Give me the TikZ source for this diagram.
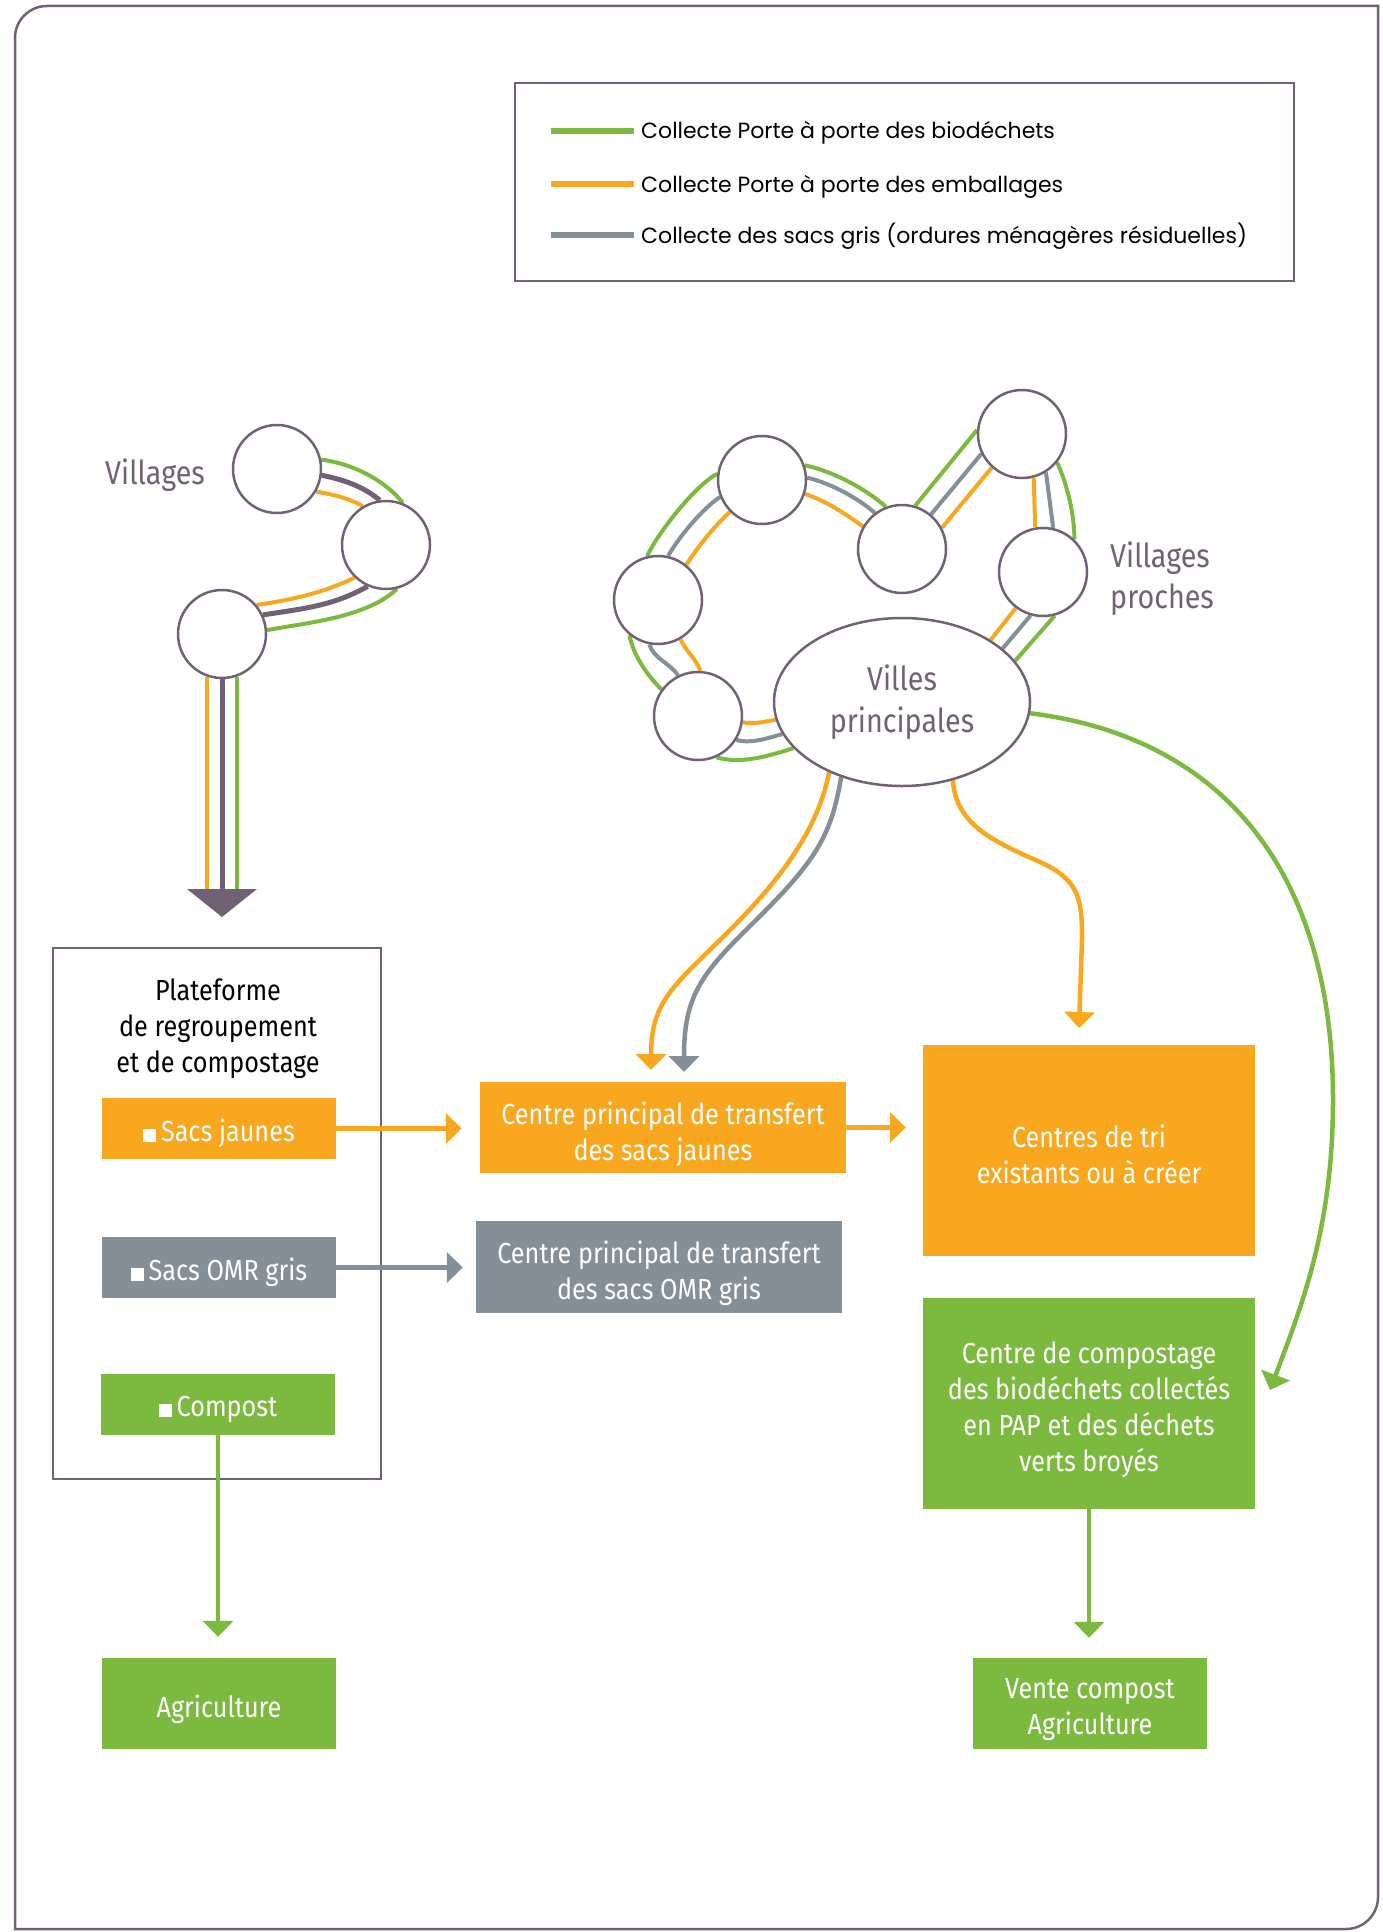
\documentclass[tikz,border=0pt]{standalone}
\usepackage{fontspec}
\setmainfont{Fira Sans}[FakeStretch=0.87]
\newfontfamily\legendfont{Poppins}
\usetikzlibrary{arrows.meta,shapes.geometric}
\pgfdeclarelayer{back}
\pgfsetlayers{back,main}
\definecolor{plum}{RGB}{113,97,117}
\definecolor{orng}{RGB}{248,167,30}
\definecolor{grn}{RGB}{123,186,63}
\definecolor{gry}{RGB}{133,143,151}
\tikzset{
  village/.style={circle, draw=plum, line width=2.5pt, fill=white, minimum size=88pt, inner sep=0pt},
  strand/.style={line width=4pt},
  box/.style={inner sep=0pt},
  boxtext/.style={inner sep=0pt, align=center, text=white, font=\fontsize{29}{36}\selectfont},
  flow/.style={line width=4.5pt, -{Triangle[width=30pt,length=16pt]}},
  lbl/.style={text=plum, font=\fontsize{33}{41}\selectfont, inner sep=0pt},
  legendtxt/.style={font=\legendfont\fontsize{22}{26}\selectfont, inner sep=0pt},
  keyline/.style={line width=6pt},
}
\newcommand{\bullsq}{\rule{13pt}{13pt}\,}
\begin{document}
\begin{tikzpicture}[x=1pt,y=-1pt]
\useasboundingbox (0,0) rectangle (1383,1932);

% outer frame, rounded at top left and bottom right
\draw[plum, line width=2.5pt] (15,1929) -- (15,38) .. controls (15,20.3) and (29.3,6) .. (47,6)
  -- (1378,6) -- (1378,1897) .. controls (1378,1914.7) and (1363.7,1929) .. (1346,1929) -- cycle;

% legend
\node[draw=plum, line width=2.5pt, minimum width=779, minimum height=198, inner sep=0pt] (legend) at (904.5,182) {};
\draw[grn, keyline] (551,131) -- (634,131);
\draw[orng, keyline] (551,184) -- (634,184);
\draw[gry, keyline] (551,235) -- (634,235);
\node[legendtxt, anchor=base west] (lg1) at (641,139) {Collecte Porte à porte des biodéchets};
\node[legendtxt, anchor=base west] (lg2) at (641,192) {Collecte Porte à porte des emballages};
\node[legendtxt, anchor=base west] (lg3) at (641,243) {Collecte des sacs gris (ordures ménagères résiduelles)};

% villages (left)
\node[village] (c1) at (277,469) {};
\node[village] (c2) at (386,545) {};
\node[village] (c3) at (222,634) {};
\node[lbl] (villabel) at (155,475) {Villages};
\coordinate (vtip) at (222,917);
\coordinate (vbase) at (222,891);
\fill[plum] (vtip) -- ++(-35,-28) -- ++(70,0) -- cycle;

% villages proches and main towns
\node[village] (r1) at (762,480) {};
\node[village] (r2) at (658,600) {};
\node[village] (r3) at (698,716) {};
\node[village] (r4) at (902,549) {};
\node[village] (r5) at (1022,434) {};
\node[village] (r6) at (1043,572) {};
\node[ellipse, draw=plum, line width=2.5pt, fill=white, minimum width=256, minimum height=168,
  inner sep=0pt, text=plum, align=center, font=\fontsize{33}{42}\selectfont] (city) at (902,702) {Villes\\principales};
\node[lbl, anchor=west, align=left] (proclabel) at (1110,579) {Villages\\proches};

\begin{pgfonlayer}{back}
  % left round
  \draw[grn, strand] (c1.12) .. controls +(38,5) and +(-14,-18) .. (c2.68);
  \draw[plum, line width=5pt] (c1.-8) .. controls +(30,6) and +(-12,-10) .. (c2.98);
  \draw[orng, strand] (c1.-30) .. controls +(20,3) and +(-10,-6) .. (c2.121);
  \draw[orng, strand] (c2.226) .. controls +(-30,15) and +(35,-5) .. (c3.40);
  \draw[plum, line width=5pt] (c2.246) .. controls +(-35,20) and +(38,-6) .. (c3.25);
  \draw[grn, strand] (c2.284) .. controls +(-30,28) and +(45,-8) .. (c3.5);
  \draw[orng, strand] (c3.-110) -- (c3.-110 |- vbase);
  \draw[plum, line width=5pt] (c3.-90) -- (c3.-90 |- vbase);
  \draw[grn, strand] (c3.-70) -- (c3.-70 |- vbase);

  % round of the main towns
  \draw[grn, strand] (r1.172) .. controls +(-22,12) and +(12,-25) .. (r2.104);
  \draw[gry, strand] (r1.202) .. controls +(-18,12) and +(10,-18) .. (r2.77);
  \draw[orng, strand] (r1.225) .. controls +(-14,12) and +(8,-14) .. (r2.51);

  \draw[grn, strand] (r1.19) .. controls +(28,6) and +(-20,-18) .. (r4.111);
  \draw[gry, strand] (r1.3) .. controls +(25,6) and +(-16,-14) .. (r4.127);
  \draw[orng, strand] (r1.-18) .. controls +(22,7) and +(-14,-10) .. (r4.150);

  \draw[grn, strand] (r4.73) -- (r5.175);
  \draw[gry, strand] (r4.50) -- (r5.206);
  \draw[orng, strand] (r4.28) -- (r5.228);

  \draw[orng, strand] (r5.-75) -- (r6.100);
  \draw[gry, strand] (r5.-58) -- (r6.77);
  \draw[grn, strand] (r5.-39) .. controls +(10,22) and +(0,-25) .. (r6.46);

  \draw[orng, strand] (r6.233) -- (city.35.2);
  \draw[gry, strand] (r6.254) -- (city.28.4);
  \draw[grn, strand] (r6.-75) -- (city.20.4);

  \draw[grn, strand] (r2.231) .. controls +(4,22) and +(-12,-12) .. (r3.144);
  \draw[gry, strand] (r2.259) .. controls +(4,14) and +(-8,-12) .. (r3.116.6);
  \draw[orng, strand] (r2.-60) .. controls +(5,12) and +(-4,-12) .. (r3.87);

  \draw[orng, strand] (r3.-8) .. controls +(12,2) and +(-12,2) .. (city.188);
  \draw[gry, strand] (r3.-32) .. controls +(16,4) and +(-15,4) .. (city.195);
  \draw[grn, strand] (r3.-66) .. controls +(25,7) and +(-25,8) .. (city.203);
\end{pgfonlayer}

% platform
\node[draw=plum, line width=2.5pt, minimum width=328, minimum height=531, inner sep=0pt] (plat) at (217,1213.5) {};
\node[font=\fontsize{29}{36}\selectfont, align=center, inner sep=0pt] (plattitle) at (218,1029) {Plateforme\\de regroupement\\et de compostage};
\node[box, fill=orng, minimum width=234, minimum height=61] (sj) at (219,1128.5) {};
\node[box, fill=gry, minimum width=234, minimum height=61] (so) at (219,1267.5) {};
\node[box, fill=grn, minimum width=234, minimum height=61] (cp) at (218,1404.5) {};
\node[box, fill=grn, minimum width=234, minimum height=91] (agri) at (219,1703.5) {};
\node[boxtext] (sjt) at ([yshift=-5pt]sj.center) {\bullsq Sacs jaunes};
\node[boxtext] (sot) at ([yshift=-5pt]so.center) {\bullsq Sacs OMR gris};
\node[boxtext] (cpt) at ([yshift=-5pt]cp.center) {\bullsq Compost};
\node[boxtext] (agrit) at ([yshift=-6pt]agri.center) {Agriculture};

% centres
\node[box, fill=orng, minimum width=366, minimum height=91] (cj) at (663,1127.5) {};
\node[box, fill=gry, minimum width=366, minimum height=92] (co) at (659,1267) {};
\node[box, fill=orng, minimum width=332, minimum height=211] (tri) at (1089,1150.5) {};
\node[box, fill=grn, minimum width=332, minimum height=211] (comp) at (1089,1403.5) {};
\node[box, fill=grn, minimum width=234, minimum height=91] (vente) at (1090,1703.5) {};
\node[boxtext] (cjt) at ([yshift=-7pt]cj.center) {Centre principal de transfert\\des sacs jaunes};
\node[boxtext] (cot) at ([yshift=-6pt]co.center) {Centre principal de transfert\\des sacs OMR gris};
\node[boxtext] (trit) at ([yshift=-4pt]tri.center) {Centres de tri\\existants ou à créer};
\node[boxtext] (compt) at ([yshift=-6pt]comp.center) {Centre de compostage\\des biodéchets collectés\\en PAP et des déchets\\verts broyés};
\node[boxtext] (ventet) at ([yshift=-6pt]vente.center) {Vente compost\\Agriculture};

% arrow ends
\coordinate (ojtip) at (651,1070);
\coordinate (gjtip) at (684,1072);
\coordinate (tritip) at (1079,1028);
\coordinate (gtip) at (1270,1390);

% flows
\draw[flow, orng, shorten >=18pt] (sj.east) -- (sj.east -| cj.west);
\draw[flow, gry, shorten >=13pt] (so.east) -- (so.east -| co.west);
\draw[flow, orng, shorten >=17pt] (cj.east) -- (cj.east -| tri.west);
\draw[flow, grn, shorten >=21pt] (cp.south) -- (cp.south |- agri.north);
\draw[flow, grn, shorten >=20pt] (comp.south) -- (comp.south |- vente.north);

\begin{pgfonlayer}{back}
  \draw[flow, orng] (city.224) .. controls +(-10,50) and +(60,-60) .. (730,930)
     .. controls +(-55,55) and +(0,-70) .. (ojtip);
  \draw[flow, gry] (city.-129.4) .. controls +(-10,60) and +(63,-62) .. (752,924)
     .. controls +(-52,51) and +(0,-75) .. (gjtip);
  \draw[flow, orng] (city.-57.3) .. controls +(3,45) and +(-45,-20) .. (1040,862)
     .. controls +(40,18) and +(0,-40) .. (1082,940) -- (tritip);
  \draw[flow, grn] (city.-5.8) .. controls +(200,25) and +(0,-220) .. (1333,1100)
     .. controls +(0,130) and +(30,-80) .. (gtip);
\end{pgfonlayer}
\end{tikzpicture}
\end{document}
